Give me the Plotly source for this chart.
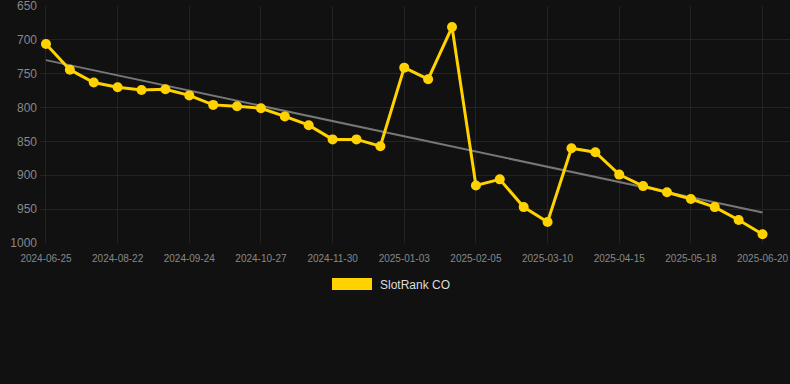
import numpy as np
import plotly.graph_objects as go

dates = [
    "2024-06-25", "2024-07-14", "2024-08-03", "2024-08-22", "2024-09-02", "2024-09-13",
    "2024-09-24", "2024-10-05", "2024-10-16", "2024-10-27", "2024-11-07", "2024-11-18",
    "2024-11-30", "2024-12-11", "2024-12-22", "2025-01-03", "2025-01-14", "2025-01-25",
    "2025-02-05", "2025-02-16", "2025-02-27", "2025-03-10", "2025-03-22", "2025-04-03",
    "2025-04-15", "2025-04-26", "2025-05-07", "2025-05-18", "2025-05-29", "2025-06-09",
    "2025-06-20",
]
rank = [
    706, 744, 763, 770, 774, 773, 782, 796, 798, 801, 813, 826, 847, 847, 857,
    741, 758, 681, 915, 906, 947, 969, 860, 866, 899, 916, 925, 935, 947, 966, 987,
]
y_ticks = [650, 700, 750, 800, 850, 900, 950, 1000]
series_name = "SlotRank CO"

idx = np.arange(len(dates))
slope, intercept = np.polyfit(idx, rank, 1)
trend = slope * idx + intercept

tick_idx = list(idx[::3])
tick_txt = [dates[i] for i in tick_idx]

YELLOW = "#FFD200"
BG = "#111111"
GRID = "#232323"

fig = go.Figure()
fig.add_trace(go.Scatter(
    x=idx, y=trend, mode="lines",
    line=dict(color="#777777", width=2),
    showlegend=False, hoverinfo="skip",
))
fig.add_trace(go.Scatter(
    x=idx, y=rank, mode="lines+markers", name=series_name,
    line=dict(color=YELLOW, width=3),
    marker=dict(color=YELLOW, size=10),
    showlegend=False,
))

L, R, T, B = 40, 0, 6, 141
W, H = 790, 384
pw, ph = W - L - R, H - T - B

def px(x):
    return (x - L) / pw

def py(y):
    return (H - B - y) / ph

fig.add_shape(type="rect", xref="paper", yref="paper",
              x0=px(332), x1=px(372), y0=py(290), y1=py(278),
              fillcolor=YELLOW, line=dict(width=0))
fig.add_annotation(xref="paper", yref="paper", x=px(378), y=py(284.5),
                   text=series_name, showarrow=False, xanchor="left", yanchor="middle",
                   font=dict(size=12, color="#dddddd"))

fig.update_layout(
    width=W, height=H,
    margin=dict(l=L, r=R, t=T, b=B),
    paper_bgcolor=BG, plot_bgcolor=BG,
    font=dict(family="Liberation Sans, Arial, sans-serif", color="#888888"),
    showlegend=False,
    xaxis=dict(
        range=[-0.25, 31.15], tickmode="array", tickvals=tick_idx, ticktext=tick_txt,
        showgrid=True, gridcolor=GRID, gridwidth=1, zeroline=False,
        tickfont=dict(size=10, color="#888888"), ticks="", ticklabelstandoff=8,
        showline=False, ticklabeloverflow="allow",
    ),
    yaxis=dict(
        range=[1000.05, 649.9], tickmode="array", tickvals=y_ticks,
        showgrid=True, gridcolor=GRID, gridwidth=1, zeroline=False,
        tickfont=dict(size=12, color="#888888"), ticks="", ticklabelstandoff=2,
        ticklabeloverflow="allow",
    ),
)

fig.write_html("out.html", post_script="document.body.style.margin='0';",
               config={"displayModeBar": False})
